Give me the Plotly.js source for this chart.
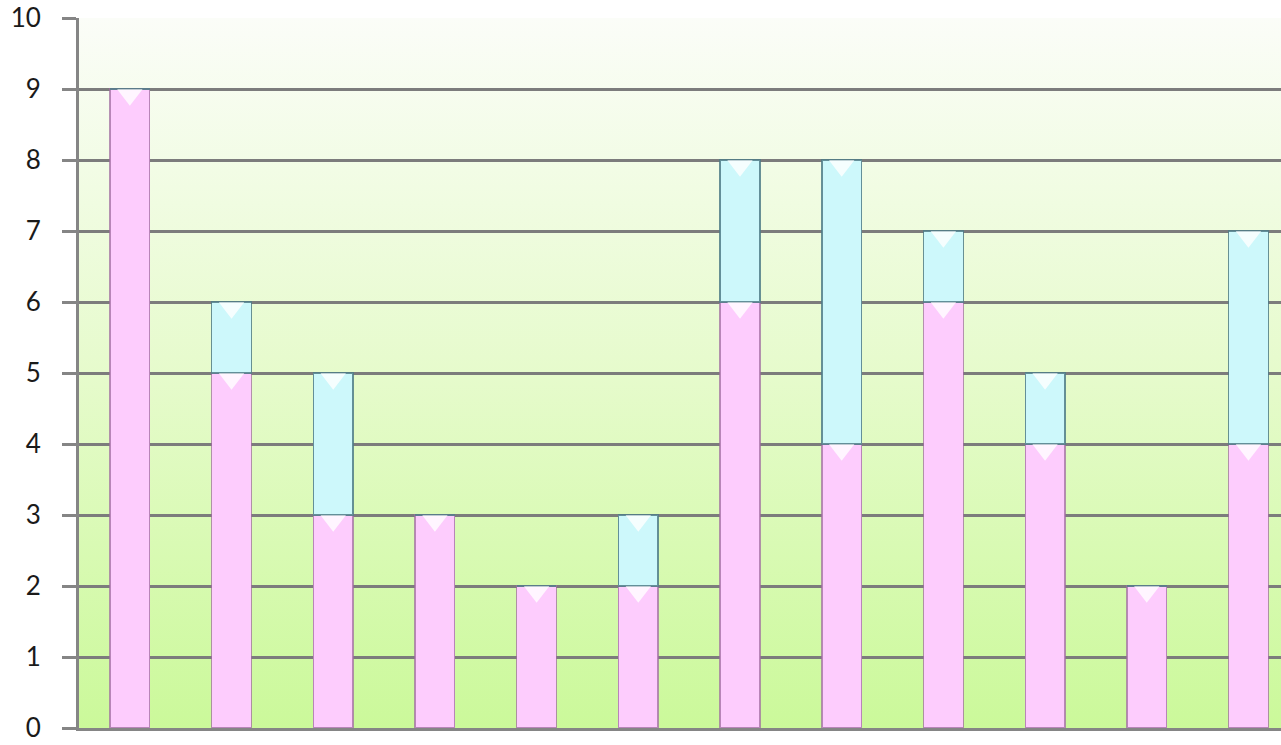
<!DOCTYPE html>
<html><head><meta charset="utf-8">
<script src="https://cdn.plot.ly/plotly-3.0.1.min.js"></script>
<style>html,body{margin:0;padding:0;background:#fff;overflow:hidden}#chart{width:1281px;height:745px}</style>
</head><body><div id="chart"></div>
<script>
const categories = ['1','2','3','4','5','6','7','8','9','10','11','12'];
const seriesPink = [9,5,3,3,2,2,6,4,6,4,2,4];
const seriesCyan = [0,1,2,0,0,1,2,4,1,1,0,3];
const yTicks = [0,1,2,3,4,5,6,7,8,9,10];

const gradSvg = '<svg xmlns="http://www.w3.org/2000/svg" width="10" height="100" preserveAspectRatio="none"><defs><linearGradient id="g" x1="0" y1="0" x2="0" y2="1"><stop offset="0" stop-color="#fbfdf8"/><stop offset="0.5" stop-color="#e6fbcc"/><stop offset="1" stop-color="#cbf99a"/></linearGradient></defs><rect width="10" height="100" fill="url(#g)"/></svg>';
const gradUrl = 'data:image/svg+xml;base64,' + btoa(gradSvg);

const xIdx = categories.map((c,i)=>i);
const cyanTop = seriesPink.map((p,i)=>p+seriesCyan[i]);

const traces = [
  {type:'bar', x:xIdx, y:seriesPink, width:0.39, name:'A',
   marker:{color:'#fdccfd', line:{color:'rgba(160,110,160,0.75)', width:1.4}}},
  {type:'bar', x:xIdx, y:seriesCyan, width:0.39, name:'B',
   marker:{color:'#cdf8fb', line:{color:'rgba(80,125,135,0.85)', width:1.4}}},
  {type:'scatter', mode:'markers', x:xIdx, y:seriesPink.map(v=>v-0.08), hoverinfo:'skip',
   marker:{symbol:'triangle-down', size:22, color:'rgba(255,255,255,0.8)', line:{width:0}}},
  {type:'scatter', mode:'markers', x:xIdx.filter((x,i)=>seriesCyan[i]>0), y:cyanTop.filter((v,i)=>seriesCyan[i]>0).map(v=>v-0.08), hoverinfo:'skip',
   marker:{symbol:'triangle-down', size:22, color:'rgba(255,255,255,0.8)', line:{width:0}}}
];

const layout = {
  width:1281, height:745,
  margin:{l:79, r:0, t:18, b:17, pad:0},
  barmode:'stack',
  showlegend:false,
  paper_bgcolor:'#ffffff',
  plot_bgcolor:'rgba(0,0,0,0)',
  images:[{source:gradUrl, xref:'paper', yref:'paper', x:0, y:1, sizex:1, sizey:1, sizing:'stretch', layer:'below', xanchor:'left', yanchor:'top'}],
  xaxis:{range:[-0.5, 11.32], showticklabels:false, ticks:'', showgrid:false, zeroline:false,
         showline:true, linecolor:'#858585', linewidth:3, fixedrange:true},
  yaxis:{range:[0,10], tickvals:yTicks, ticktext:yTicks.map(String), showgrid:true, gridcolor:'#7c7c7c', gridwidth:3,
         zeroline:false, showline:true, linecolor:'#858585', linewidth:3,
         ticks:'outside', ticklen:14, tickwidth:3, tickcolor:'#858585',
         ticklabelstandoff:16, ticklabeloverflow:'allow',
         tickfont:{family:'Lato, "Open Sans", sans-serif', size:26, color:'#1a1a1a'}, fixedrange:true}
};
Plotly.newPlot('chart', traces, layout, {displayModeBar:false, staticPlot:true});
</script></body></html>
